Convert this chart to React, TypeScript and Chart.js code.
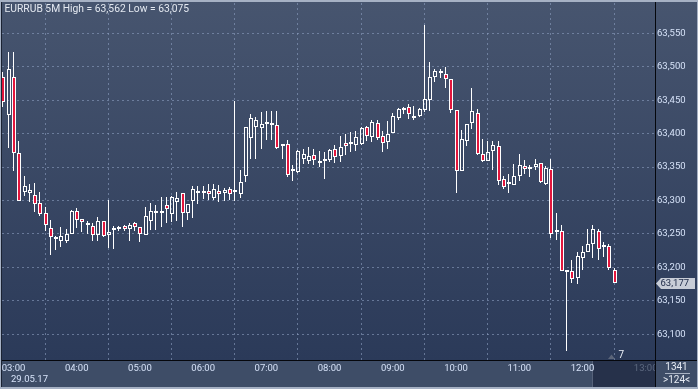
import React, { useEffect, useRef } from 'react';
import { Chart, registerables } from 'chart.js';

Chart.register(...registerables);

// ---- data -------------------------------------------------------------
// candle index 0 = 03:00, step 5 minutes; first candle is 02:50
const FIRST_INDEX = -2;
const hourLabels = ['03:00', '04:00', '05:00', '06:00', '07:00', '08:00', '09:00', '10:00', '11:00', '12:00', '13:00'];
const dateLabel = '29.05.17';
const symbolLabel = 'EURRUB 5M';
const barsTotalLabel = '1341';
const barsVisibleLabel = '>124<';
const scrollLabel = '7';

const opens = [
  63.484, 63.4285, 63.484, 63.3715, 63.313, 63.3115, 63.3085, 63.297, 63.2815, 63.259,
  63.242, 63.240, 63.240, 63.250, 63.284, 63.2725, 63.2665, 63.262, 63.2485, 63.270,
  63.2485, 63.256, 63.257, 63.2615, 63.257, 63.267, 63.2605, 63.2485, 63.2695, 63.2815,
  63.2815, 63.2935, 63.280, 63.298, 63.3115, 63.2815, 63.2995, 63.3115, 63.3115, 63.3145,
  63.3035, 63.3145, 63.3115, 63.3175, 63.3125, 63.310, 63.337, 63.394, 63.410, 63.4085,
  63.415, 63.415, 63.4135, 63.382, 63.385, 63.3445, 63.3425, 63.3625, 63.359, 63.3675,
  63.3595, 63.359, 63.361, 63.3765, 63.3665, 63.3865, 63.384, 63.383, 63.3845, 63.4095,
  63.395, 63.4155, 63.396, 63.3875, 63.401, 63.424, 63.436, 63.4395, 63.427, 63.4265,
  63.435, 63.450, 63.484, 63.4935, 63.489, 63.4815, 63.435, 63.344, 63.389, 63.416,
  63.4315, 63.369, 63.359, 63.374, 63.381, 63.3325, 63.324, 63.3235, 63.3365, 63.352,
  63.3505, 63.3505, 63.3565, 63.325, 63.3475, 63.2535, 63.255, 63.1935, 63.1945, 63.184,
  63.214, 63.2225, 63.235, 63.255, 63.230, 63.232, 63.196
];
const highs = [
  63.492, 63.5225, 63.5225, 63.3885, 63.3365, 63.324, 63.3265, 63.3135, 63.290, 63.2715,
  63.247, 63.261, 63.2575, 63.286, 63.2895, 63.2725, 63.270, 63.266, 63.276, 63.270,
  63.3015, 63.262, 63.262, 63.264, 63.266, 63.2685, 63.2605, 63.290, 63.2965, 63.294,
  63.306, 63.306, 63.3075, 63.3135, 63.3115, 63.295, 63.321, 63.3215, 63.321, 63.324,
  63.3245, 63.3225, 63.3185, 63.320, 63.4485, 63.345, 63.4095, 63.430, 63.425, 63.4325,
  63.4335, 63.4335, 63.4335, 63.385, 63.390, 63.3525, 63.375, 63.3775, 63.380, 63.3765,
  63.374, 63.3725, 63.377, 63.3825, 63.396, 63.400, 63.402, 63.4035, 63.410, 63.412,
  63.420, 63.420, 63.4035, 63.4185, 63.431, 63.439, 63.440, 63.445, 63.441, 63.439,
  63.562, 63.507, 63.4965, 63.4965, 63.500, 63.4815, 63.435, 63.405, 63.415, 63.4685,
  63.4375, 63.3915, 63.3885, 63.3885, 63.3885, 63.336, 63.339, 63.355, 63.369, 63.360,
  63.353, 63.3625, 63.3565, 63.3515, 63.3615, 63.2815, 63.264, 63.196, 63.2115, 63.2235,
  63.2325, 63.2575, 63.2635, 63.2575, 63.2385, 63.235, 63.1985
];
const lows = [
  63.440, 63.3785, 63.344, 63.2995, 63.3065, 63.2985, 63.2825, 63.2775, 63.255, 63.219,
  63.226, 63.231, 63.236, 63.250, 63.2585, 63.2525, 63.250, 63.240, 63.239, 63.245,
  63.2285, 63.227, 63.254, 63.255, 63.239, 63.255, 63.2375, 63.2485, 63.256, 63.2565,
  63.260, 63.266, 63.2675, 63.269, 63.260, 63.271, 63.274, 63.295, 63.3025, 63.3015,
  63.3005, 63.2975, 63.299, 63.3015, 63.299, 63.304, 63.3275, 63.362, 63.362, 63.3775,
  63.390, 63.390, 63.3775, 63.3615, 63.335, 63.3285, 63.341, 63.355, 63.355, 63.3525,
  63.350, 63.3315, 63.3575, 63.356, 63.357, 63.3685, 63.3725, 63.374, 63.383, 63.389,
  63.3875, 63.390, 63.3725, 63.3765, 63.401, 63.420, 63.429, 63.4225, 63.420, 63.425,
  63.4325, 63.434, 63.4775, 63.4835, 63.4685, 63.431, 63.311, 63.344, 63.3815, 63.4065,
  63.3675, 63.3575, 63.359, 63.345, 63.3225, 63.3165, 63.311, 63.3235, 63.3285, 63.340,
  63.335, 63.345, 63.326, 63.3235, 63.2435, 63.241, 63.195, 63.075, 63.176, 63.175,
  63.196, 63.2225, 63.2135, 63.211, 63.215, 63.196, 63.177
];
const closes = [
  63.4475, 63.4965, 63.3715, 63.2995, 63.321, 63.315, 63.295, 63.280, 63.264, 63.2455,
  63.244, 63.247, 63.2505, 63.285, 63.271, 63.2675, 63.2635, 63.2485, 63.270, 63.247,
  63.2535, 63.256, 63.2605, 63.2575, 63.264, 63.260, 63.250, 63.277, 63.284, 63.2815,
  63.2845, 63.2875, 63.306, 63.304, 63.2815, 63.295, 63.3175, 63.3115, 63.3115, 63.310,
  63.317, 63.310, 63.316, 63.310, 63.3125, 63.328, 63.4095, 63.423, 63.421, 63.415,
  63.415, 63.4135, 63.3785, 63.382, 63.3385, 63.3445, 63.3735, 63.369, 63.366, 63.361,
  63.3565, 63.359, 63.375, 63.365, 63.380, 63.3815, 63.384, 63.3945, 63.4085, 63.3965,
  63.417, 63.3935, 63.3865, 63.400, 63.426, 63.4365, 63.436, 63.4295, 63.424, 63.4365,
  63.4525, 63.484, 63.494, 63.490, 63.4815, 63.436, 63.344, 63.3915, 63.415, 63.4335,
  63.369, 63.359, 63.3725, 63.3825, 63.329, 63.320, 63.324, 63.336, 63.3535, 63.3475,
  63.3475, 63.355, 63.3275, 63.349, 63.250, 63.2535, 63.195, 63.1935, 63.1825, 63.217,
  63.2225, 63.235, 63.2575, 63.2275, 63.230, 63.1985, 63.177
];

// axis ranges
const xMin = -2.183;
const xMax = 121.77;
const xStep = 12;
const yMin = 63.0616;
const yMax = 63.5953;
const yStep = 0.05;

// ---- styles -----------------------------------------------------------
const RED = '#e3163d';
const WHITE = '#ffffff';
const GRID = 'rgba(140,158,192,0.6)';
const LABEL = '#d6e2f8';
const FONT = 'Roboto';

const fmt = (v: number) => v.toFixed(3).replace('.', ',');

const decorPlugin = {
  id: 'decor',
  beforeDraw(chart: any) {
    const { ctx, width, height, chartArea } = chart;
    ctx.save();
    ctx.fillStyle = '#3e4d67';
    ctx.fillRect(0, 0, width, height);
    const g = ctx.createLinearGradient(0, 0, 0, chartArea.bottom);
    g.addColorStop(0, '#47556f');
    g.addColorStop(1, '#2b3a59');
    ctx.fillStyle = g;
    ctx.fillRect(0, 0, width, chartArea.bottom);
    // scroller zone in the time strip
    ctx.fillStyle = '#26314a';
    ctx.fillRect(592, chartArea.bottom, chartArea.right - 592, height - chartArea.bottom);
    ctx.fillStyle = '#56627a';
    ctx.fillRect(592, chartArea.bottom, 1, height - chartArea.bottom);
    ctx.restore();
  },
  beforeDatasetsDraw(chart: any) {
    const xs = chart.scales.x;
    chart.data.datasets.forEach((ds: any, di: number) => {
      const meta = chart.getDatasetMeta(di);
      meta.data.forEach((el: any, i: number) => {
        const raw = ds.data[i];
        if (!raw) return;
        const p = Math.floor(xs.getPixelForValue(raw.x));
        el.x = ds.barThickness === 1 ? p + 0.5 : p + 1;
        el.y = Math.round(el.y);
        el.base = Math.round(el.base);
      });
    });
  },
  afterDraw(chart: any) {
    const { ctx, width, height, chartArea } = chart;
    const ys = chart.scales.y;
    ctx.save();
    // bottom-right info box
    ctx.fillStyle = '#3e4d67';
    ctx.fillRect(chartArea.right, chartArea.bottom, width - chartArea.right, height - chartArea.bottom);
    ctx.fillStyle = '#e6ebf3';
    ctx.font = `10px ${FONT}`;
    ctx.textAlign = 'center';
    ctx.textBaseline = 'middle';
    ctx.fillText(barsTotalLabel, 676.5, 367.5);
    ctx.fillText(barsVisibleLabel, 676.5, 380.5);
    ctx.fillStyle = '#a9b3c4';
    ctx.fillRect(665, 373, 25, 1);

    // axis separators
    ctx.fillStyle = '#05070c';
    ctx.fillRect(chartArea.right, 2, 1, height - 2);
    ctx.fillRect(0, chartArea.bottom, width, 1);

    // outer frame
    ctx.fillStyle = '#a6b1c4';
    ctx.fillRect(0, 0, width, 2);
    ctx.fillRect(0, 0, 1, height);
    ctx.fillRect(0, height - 2, width, 2);
    ctx.fillRect(width - 1, 0, 1, height);
    ctx.fillStyle = '#1b2333';
    ctx.fillRect(1, 2, 1, height - 4);

    // title
    const hi = Math.max(...highs);
    const lo = Math.min(...lows);
    ctx.textAlign = 'left';
    ctx.textBaseline = 'alphabetic';
    ctx.font = `10.3px ${FONT}`;
    ctx.fillStyle = '#e4e9f1';
    ctx.fillText(`${symbolLabel} High = ${fmt(hi)} Low = ${fmt(lo)}`, 4.5, 12);

    // date under first hour label
    ctx.fillStyle = LABEL;
    ctx.font = `9.5px ${FONT}`;
    ctx.textBaseline = 'middle';
    ctx.fillText(dateLabel, 11, 379.5);

    // scroller marker
    ctx.fillStyle = '#5b6579';
    ctx.beginPath();
    ctx.moveTo(608, 359);
    ctx.lineTo(615, 359);
    ctx.lineTo(611.5, 354.5);
    ctx.closePath();
    ctx.fill();
    ctx.fillStyle = '#eef2f8';
    ctx.font = `10px ${FONT}`;
    ctx.fillText(scrollLabel, 618.5, 355.5);

    // last price tag
    const last = closes[closes.length - 1];
    const py = Math.round(ys.getPixelForValue(last)) + 0.5;
    ctx.fillStyle = '#c8cdd7';
    ctx.beginPath();
    ctx.moveTo(chartArea.right + 1, py);
    ctx.lineTo(chartArea.right + 6, py - 5.5);
    ctx.lineTo(695, py - 5.5);
    ctx.lineTo(695, py + 5.5);
    ctx.lineTo(chartArea.right + 6, py + 5.5);
    ctx.closePath();
    ctx.fill();
    ctx.fillStyle = '#1c2846';
    ctx.font = `9.5px ${FONT}`;
    ctx.textBaseline = 'middle';
    ctx.fillText(fmt(last), chartArea.right + 5.5, py + 0.5);
    ctx.restore();
  }
};

export default function App() {
  const ref = useRef<HTMLCanvasElement | null>(null);

  useEffect(() => {
    document.body.style.margin = '0';
    const canvas = ref.current;
    if (!canvas) return;

    const idx = opens.map((_, k) => FIRST_INDEX + k);
    const upperWicks: any[] = [];
    const lowerWicks: any[] = [];
    idx.forEach((x, k) => {
      const top = Math.max(opens[k], closes[k]);
      const bot = Math.min(opens[k], closes[k]);
      if (highs[k] > top) upperWicks.push({ x, y: [top, highs[k]] });
      if (lows[k] < bot) lowerWicks.push({ x, y: [lows[k], bot] });
    });
    const bodies = idx.map((x, k) => ({ x, y: [opens[k], closes[k]] }));
    const bodyColors = idx.map((_, k) => (closes[k] < opens[k] ? RED : 'rgba(0,0,0,0)'));

    const wickStyle = {
      type: 'bar' as const,
      backgroundColor: WHITE,
      borderWidth: 0,
      barThickness: 1,
      grouped: false,
      inflateAmount: 0,
      order: 2
    };

    const chart = new Chart(canvas, {
      type: 'bar',
      data: {
        datasets: [
          { ...wickStyle, label: 'upper', data: upperWicks },
          { ...wickStyle, label: 'lower', data: lowerWicks },
          {
            type: 'bar',
            label: 'body',
            data: bodies,
            backgroundColor: bodyColors,
            borderColor: WHITE,
            borderWidth: 1,
            borderSkipped: false,
            barThickness: 4,
            minBarLength: 2,
            grouped: false,
            inflateAmount: 0,
            order: 1
          } as any
        ]
      },
      options: {
        responsive: false,
        devicePixelRatio: 1,
        animation: false,
        events: [],
        layout: { padding: { left: 2, top: 3, right: 0, bottom: 0 } },
        plugins: {
          legend: { display: false },
          tooltip: { enabled: false },
          title: { display: false }
        },
        scales: {
          x: {
            type: 'linear',
            position: 'bottom',
            min: xMin,
            max: xMax,
            offset: false,
            grid: { color: GRID, lineWidth: 1, drawTicks: false },
            border: { display: false, dash: [2, 3] },
            ticks: {
              stepSize: xStep,
              includeBounds: false,
              autoSkip: false,
              maxRotation: 0,
              padding: 3,
              font: { family: FONT, size: 9.5 },
              color: (c: any) => (c.tick && c.tick.value === xStep * (hourLabels.length - 1) ? '#5d6980' : LABEL),
              callback: (v: any) => {
                const k = Math.round(Number(v) / xStep);
                return hourLabels[k] ?? '';
              }
            },
            afterFit: (s: any) => {
              s.height = 29;
              s.paddingLeft = 0;
              s.paddingRight = 0;
            }
          } as any,
          y: {
            type: 'linear',
            position: 'right',
            min: yMin,
            max: yMax,
            grid: { color: GRID, lineWidth: 1, drawTicks: false },
            border: { display: false, dash: [2, 3] },
            ticks: {
              stepSize: yStep,
              includeBounds: false,
              padding: 2,
              font: { family: FONT, size: 9.5 },
              color: LABEL,
              callback: (v: any) => fmt(Number(v))
            },
            afterFit: (s: any) => {
              s.width = 43;
              s.paddingTop = 0;
              s.paddingBottom = 0;
            }
          } as any
        }
      },
      plugins: [decorPlugin as any]
    });

    return () => chart.destroy();
  }, []);

  return (
    <div style={{ width: 698, height: 389, position: 'relative' }}>
      <canvas ref={ref} width={698} height={389} style={{ display: 'block' }} />
    </div>
  );
}
